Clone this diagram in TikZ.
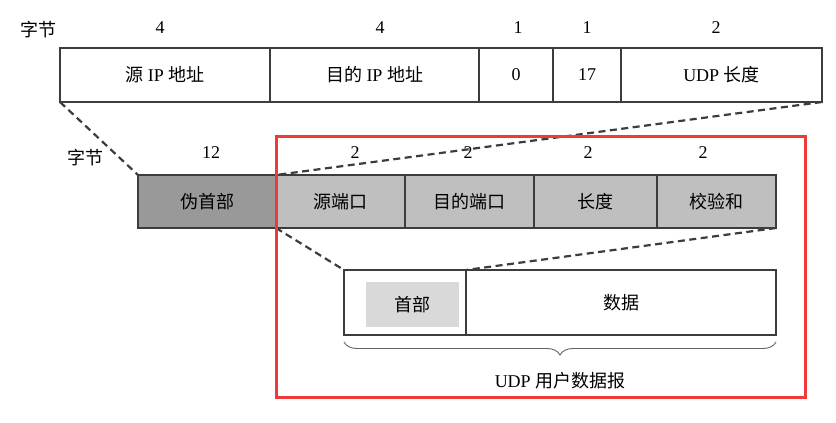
\documentclass[tikz,border=0pt]{standalone}
\usepackage{fontspec}
\setmainfont{Liberation Serif}
\newfontfamily\cjk{Noto Sans CJK SC}
\newcommand{\zh}[1]{{\cjk #1}}
\usetikzlibrary{decorations.pathreplacing}
\definecolor{framered}{HTML}{F03A3A}
\definecolor{cellline}{HTML}{3C3C3C}

\begin{document}
\begin{tikzpicture}[x=1pt,y=-1pt,
  every node/.style={font=\fontsize{18}{21}\selectfont},
  cell/.style={draw=cellline,line width=1.3pt,inner sep=0pt,outer sep=0pt,
    anchor=north west},
  toprow/.style={cell,minimum height=54pt},
  midrow/.style={cell,minimum height=53pt,fill=black!25},
  botrow/.style={cell,minimum height=65pt},
  bytes/.style={inner sep=0pt},
  link/.style={cellline,line width=2.2pt,dash pattern=on 7pt off 4.5pt}]
  \useasboundingbox (0,0) rectangle (836,423);

  % pseudo header
  \node[bytes] (b0) at (38,30) {\zh{字节}};
  \node[toprow,minimum width=210pt] (srcip) at (60,48) {\zh{源} IP \zh{地址}};
  \node[toprow,minimum width=209pt] (dstip) at (270,48) {\zh{目的} IP \zh{地址}};
  \node[toprow,minimum width=74pt] (zero) at (479,48) {0};
  \node[toprow,minimum width=68pt] (proto) at (553,48) {17};
  \node[toprow,minimum width=201pt] (udplen) at (621,48) {UDP \zh{长度}};
  \node[bytes] (n1) at (160,28) {4};
  \node[bytes] (n2) at (380,28) {4};
  \node[bytes] (n3) at (518,28) {1};
  \node[bytes] (n4) at (587,28) {1};
  \node[bytes] (n5) at (716,28) {2};

  % udp header
  \node[bytes] (b1) at (85,158) {\zh{字节}};
  \node[midrow,fill=black!40,minimum width=138pt] (pseudo) at (138,175) {\zh{伪首部}};
  \node[midrow,minimum width=129pt] (srcport) at (276,175) {\zh{源端口}};
  \node[midrow,minimum width=129pt] (dstport) at (405,175) {\zh{目的端口}};
  \node[midrow,minimum width=123pt] (len) at (534,175) {\zh{长度}};
  \node[midrow,minimum width=119pt] (chk) at (657,175) {\zh{校验和}};
  \node[bytes] (m1) at (211,153) {12};
  \node[bytes] (m2) at (355,153) {2};
  \node[bytes] (m3) at (468,153) {2};
  \node[bytes] (m4) at (588,153) {2};
  \node[bytes] (m5) at (703,153) {2};

  % udp datagram
  \node[botrow,minimum width=122pt] (hdr) at (344,270) {};
  \node[botrow,minimum width=310pt] (data) at (466,270) {\zh{数据}};
  \node[fill=black!15,minimum width=93pt,minimum height=45pt,inner sep=0pt]
    (hdrbox) at (412.5,304.5) {\zh{首部}};
  \draw[cellline!80,line width=.9pt,decorate,
    decoration={brace,mirror,amplitude=13pt}]
    ([yshift=-7pt]hdr.south west) -- ([yshift=-7pt]data.south east)
    node[black,midway,yshift=-39pt] (dgram) {UDP \zh{用户数据报}};

  % zoom lines
  \draw[link] (srcip.south west) -- (pseudo.north west);
  \draw[link] (udplen.south east) -- (srcport.north west);
  \draw[link] (srcport.south west) -- (hdr.north west);
  \draw[link] (chk.south east) -- (hdr.north east);

  \draw[framered,line width=3pt] (276,136) rectangle (805,397);
\end{tikzpicture}
\end{document}
